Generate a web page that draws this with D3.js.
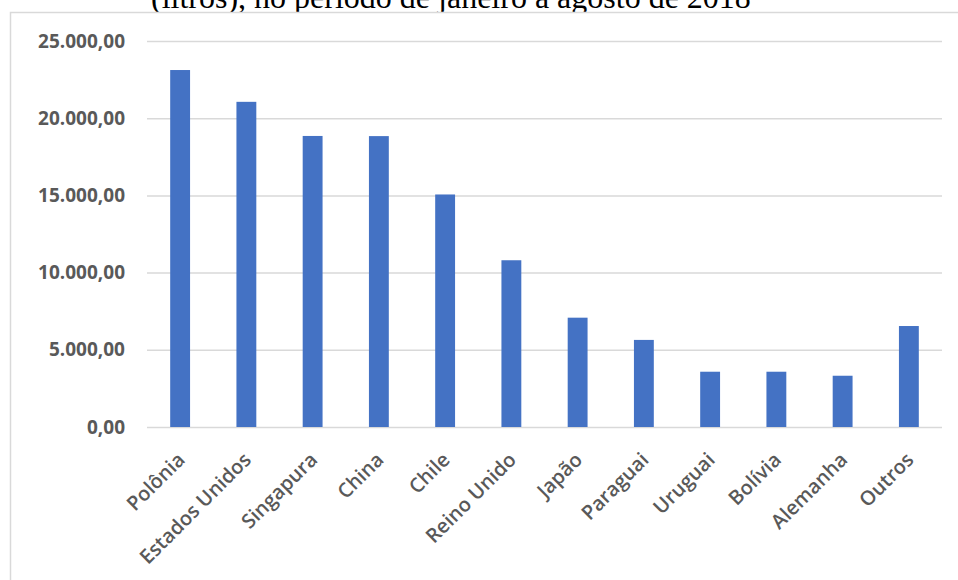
<!DOCTYPE html>
<html>
<head>
<meta charset="utf-8">
<script src="https://cdn.jsdelivr.net/npm/d3@7"></script>
<style>
  html, body { margin: 0; padding: 0; background: #fff; }
  svg { display: block; }
</style>
</head>
<body>
<svg id="chart" width="958" height="580"></svg>
<script>
// Export volumes by destination (litres), January–August 2018
const categories = ["Polônia", "Estados Unidos", "Singapura", "China", "Chile", "Reino Unido",
                    "Japão", "Paraguai", "Uruguai", "Bolívia", "Alemanha", "Outros"];
const volumes = [23120, 21060, 18850, 18840, 15060, 10800, 7080, 5640, 3580, 3580, 3320, 6540];
const yTicks = [0, 5000, 10000, 15000, 20000, 25000];
const titleText = "(litros), no período de janeiro a agosto de 2018";

const svg = d3.select("#chart");
const margin = { left: 147, right: 16, top: 41, bottom: 153 };
const W = 958, H = 580;

// Caption line above the chart frame
svg.append("text")
  .attr("x", 151)
  .attr("y", 8)
  .attr("font-family", "'Liberation Serif', 'Times New Roman', serif")
  .attr("font-size", 32)
  .attr("fill", "#000")
  .text(titleText);

// Chart frame
svg.append("rect")
  .attr("x", 10.5).attr("y", 12.5)
  .attr("width", 1000).attr("height", 1000)
  .attr("fill", "#fff")
  .attr("stroke", "#d9d9d9")
  .attr("stroke-width", 1.5);

const x = d3.scaleBand()
  .domain(categories)
  .range([margin.left, W - margin.right])
  .paddingInner(0.7)
  .paddingOuter(0.35);

const y = d3.scaleLinear()
  .domain([0, 25000])
  .range([H - margin.bottom, margin.top]);

const fmt = v => d3.format(",.2f")(v).replace(/,/g, "#").replace(".", ",").replace(/#/g, ".");

// Horizontal gridlines with value labels
const yAxis = d3.axisLeft(y)
  .tickValues(yTicks)
  .tickSize(-(W - margin.right - margin.left))
  .tickPadding(22)
  .tickFormat(fmt);

const gy = svg.append("g")
  .attr("transform", `translate(${margin.left},0)`)
  .call(yAxis);
gy.select(".domain").remove();
gy.selectAll(".tick line")
  .attr("stroke", "#d9d9d9")
  .attr("stroke-width", 1.5);
gy.selectAll(".tick text")
  .attr("fill", "#595959")
  .attr("font-family", "'Open Sans', sans-serif")
  .attr("font-weight", 700)
  .attr("font-size", 19);

// Bars
svg.append("g")
  .selectAll("rect")
  .data(categories)
  .join("rect")
  .attr("x", d => x(d))
  .attr("width", x.bandwidth())
  .attr("y", (d, i) => y(volumes[i]))
  .attr("height", (d, i) => y(0) - y(volumes[i]))
  .attr("fill", "#4472c4");

// Category labels, rotated
const xAxis = d3.axisBottom(x).tickSize(0).tickPadding(0);
const gx = svg.append("g")
  .attr("transform", `translate(0,${y(0)})`)
  .call(xAxis);
gx.select(".domain").remove();
gx.selectAll(".tick text")
  .attr("fill", "#595959")
  .attr("font-family", "'Open Sans', sans-serif")
  .attr("font-weight", 600)
  .attr("font-size", 20)
  .attr("text-anchor", "end")
  .attr("dy", null)
  .attr("y", null)
  .attr("transform", "translate(6,34) rotate(-45)");
</script>
</body>
</html>
